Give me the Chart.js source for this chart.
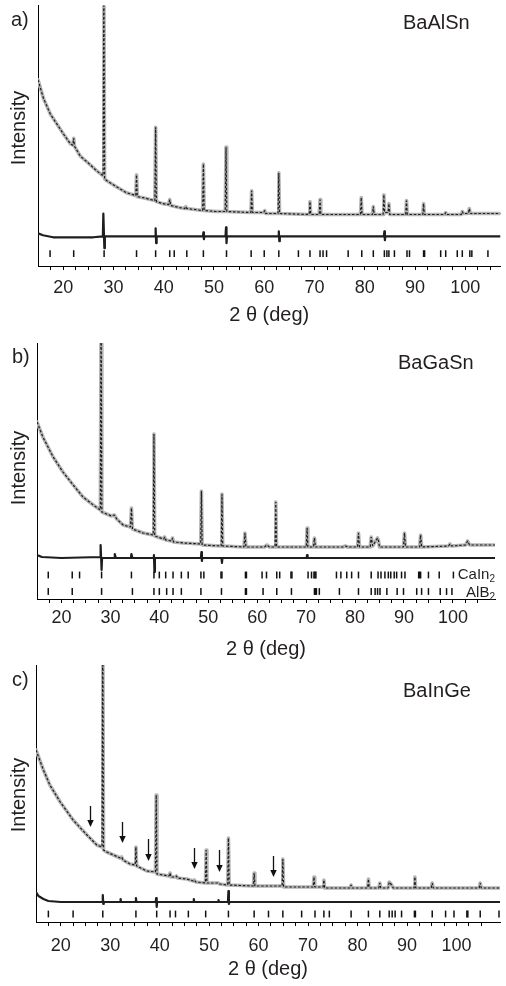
<!DOCTYPE html>
<html><head><meta charset="utf-8">
<script src="https://cdn.jsdelivr.net/npm/chart.js@4.4.1/dist/chart.umd.min.js"></script>
<style>
html,body{margin:0;padding:0;background:#fff;}
body{width:506px;height:986px;position:relative;overflow:hidden;font-family:"Liberation Sans",Arial,Helvetica,sans-serif;color:#231f20;}
canvas{position:absolute;left:0;}
.lbl{position:absolute;white-space:nowrap;line-height:1;font-size:20px;}
.ylab{position:absolute;white-space:nowrap;line-height:1;font-size:20px;transform:translate(-50%,-50%) rotate(-90deg);}
.ph{position:absolute;white-space:nowrap;line-height:1;font-size:15px;text-align:right;}
.ph span{font-size:10px;position:relative;top:3px;}
</style></head><body>
<canvas id="ca" width="506" height="340" style="top:0px"></canvas>
<canvas id="cb" width="506" height="340" style="top:330px"></canvas>
<canvas id="cc" width="506" height="336" style="top:650px"></canvas>

<div class="lbl" style="left:11px;top:9px">a)</div>
<div class="lbl" style="left:403px;top:12px">BaAlSn</div>
<div class="ylab" style="left:18px;top:128px">Intensity</div>

<div class="lbl" style="left:12px;top:346px">b)</div>
<div class="lbl" style="left:398px;top:352px">BaGaSn</div>
<div class="ylab" style="left:18px;top:468px">Intensity</div>
<div class="ph" style="right:11px;top:566px">CaIn<span>2</span></div>
<div class="ph" style="right:11px;top:584px">AlB<span>2</span></div>

<div class="lbl" style="left:12px;top:669px">c)</div>
<div class="lbl" style="left:403px;top:680px">BaInGe</div>
<div class="ylab" style="left:18px;top:795px">Intensity</div>

<script>
// ---------- Panel a) BaAlSn ----------
const aTheta = [15.0,16.1,17.5,18.8,20.1,21.5,21.95,22.1,22.25,23.4,25.0,26.7,27.95,28.1,28.25,28.7,30.6,32.6,33.9,34.45,34.6,34.75,35.9,38.25,38.4,38.55,39.8,41.0,41.2,41.4,43.1,44.2,44.4,44.6,47.75,47.9,48.05,50.4,52.25,52.4,52.55,57.35,57.5,57.65,59.9,60.1,60.3,62.75,62.9,63.05,68.95,69.1,69.25,70.95,71.1,71.25,79.15,79.3,79.45,81.55,81.7,81.85,83.65,83.8,83.95,84.65,84.8,84.95,88.15,88.3,88.45,91.55,91.7,91.85,95.9,96.1,96.3,99.2,99.4,99.6,100.6,100.8,101.0,107.0];
const aCounts = [188,169,153,143,133,123,122,129,121,111,104,96,91,300,88,86,80,74,72,71,92,70,69,66,140,65,63,62,67,61,59,58,60,58,56,103,56,55,55,120,55,54,76,54,54,56,53,53,94,53,52,65,52,52,67,52,52,69,52,52,60,52,52,72,54,54,63,52,52,66,52,52,63,52,52,54,52,52,55,53,53,58,53,53];
const aDiffTheta = [15.0,16.0,18.0,22.0,26.0,27.9,28.0,28.2,28.3,38.3,38.4,38.5,38.6,47.8,47.9,48.0,48.1,52.3,52.4,52.5,52.6,62.8,62.9,63.0,63.1,83.8,83.9,84.0,84.1,107.0];
const aDiff = [33,31,29,29,29,30,53,18,30,30,38,23,30,30,34,27,30,30,39,23,30,30,35,25,30,30,35,26,30,30];
const aRefl = [17.4,22.1,28.15,34.6,38.4,41.2,42.1,44.6,47.9,52.5,57.4,60.0,62.9,66.8,69.1,71.1,71.7,72.4,76.7,79.4,81.7,83.9,84.4,84.8,85.9,88.4,88.9,91.7,91.9,95.1,96.1,98.4,99.4,100.9,101.3,104.5];

// ---------- Panel b) BaGaSn ----------
const bTheta = [15.0,16.2,18.3,20.3,22.4,24.4,26.5,27.95,28.1,28.25,30.2,30.8,31.3,32.6,34.1,34.3,34.5,36.7,38.75,38.9,39.05,40.9,41.1,41.3,42.5,42.7,42.9,44.9,48.45,48.6,48.75,52.65,52.8,52.95,57.3,57.5,57.7,61.5,62.0,62.5,63.65,63.8,63.95,70.05,70.2,70.35,71.5,71.7,71.9,77.5,78.0,78.5,80.5,80.7,80.9,83.1,83.3,83.6,84.6,84.8,85.0,89.9,90.1,90.3,93.2,93.4,93.6,99.1,99.4,99.7,102.6,103.0,103.4,108.6];
const bCounts = [177,162,142,127,114,102,94,89,300,87,83,84,80,74,72,91,70,66,64,165,63,60,62,59,58,61,57,56,55,108,54,53,105,53,52,66,52,52,54,52,52,97,52,52,71,52,52,61,52,52,53,52,52,66,52,52,62,53,61,58,52,52,66,52,52,64,52,53,55,53,54,58,54,54];
const bDiffTheta = [15.0,16.0,20.0,27.9,28.0,28.2,28.3,30.8,30.9,31.1,34.2,34.3,34.5,38.8,38.9,39.0,39.1,48.5,48.6,48.7,48.8,52.7,52.8,52.9,70.1,70.2,70.3,108.6];
const bDiff = [44,42,41,42,54,29,41,41,45,41,41,45,41,41,44,27,41,41,47,38,41,41,36,41,41,44,41,41];
const bReflCaIn2 = [17.3,22.2,23.7,28.2,34.3,38.9,40.0,41.3,42.8,44.5,45.9,48.5,49.1,52.6,52.8,57.6,57.8,61.0,61.9,64.0,64.6,66.9,67.1,70.4,71.1,71.6,71.8,72.0,76.2,77.1,78.3,79.3,80.7,83.3,84.7,85.3,86.1,86.8,87.3,88.0,88.5,89.5,90.2,93.0,93.2,93.4,95.0,97.2,100.1];
const bReflAlB2 = [17.3,22.2,28.2,34.5,38.9,40.0,41.5,42.8,44.5,48.5,52.7,57.6,57.8,61.2,64.0,67.0,71.7,71.9,72.1,72.7,76.8,80.7,83.3,84.1,84.6,85.1,86.5,88.6,89.9,92.6,93.6,95.0,97.4,98.7,99.8];

// ---------- Panel c) BaInGe ----------
const cTheta = [15.0,16.5,17.8,19.9,22.5,25.3,27.3,28.35,28.5,28.65,29.3,32.0,32.3,32.6,34.0,35.05,35.2,35.35,37.4,39.15,39.3,39.45,41.9,42.1,42.3,43.2,43.4,43.6,45.5,46.8,47.0,47.3,49.25,49.4,49.55,51.9,52.1,53.75,53.9,54.05,58.95,59.1,59.25,64.75,64.9,65.05,71.05,71.2,71.35,73.05,73.2,73.35,78.5,78.7,78.9,82.05,82.2,82.35,84.3,84.5,84.7,86.2,86.4,86.9,87.2,91.45,91.6,91.75,94.9,95.1,95.3,104.6,104.8,105.0,108.8];
const cCounts = [172,152,137,120,102,87,77,75,300,72,70,64,65,62,58,57,75,56,51,50,127,48,46,49,45,45,46,44,43,41,42,40,39,72,39,39,38,37,84,37,36,49,36,36,63,35,35,45,35,35,42,34,34,37,34,34,43,34,34,39,34,34,40,37,34,34,45,34,34,39,34,34,39,34,34];
const cDiffTheta = [15.0,15.5,16.5,17.5,20.0,28.4,28.5,28.6,28.7,32.0,32.1,32.2,35.1,35.2,35.3,39.2,39.3,39.4,39.5,46.8,46.9,47.0,51.8,51.9,52.0,53.8,53.9,54.0,54.1,108.8];
const cDiff = [30,26,23,21,20,20,27,18,20,20,23,20,20,24,20,20,24,15,20,20,23,20,20,22,20,20,31,18,20,20];
const cRefl = [17.5,22.5,28.5,35.2,39.4,42.1,43.2,45.8,49.3,53.9,59.1,62.0,64.9,68.7,71.4,73.2,74.3,78.7,82.2,84.5,86.4,87.0,87.6,88.9,91.5,91.7,95.1,97.8,99.5,102.1,102.3,104.8,108.6];
const cArrowTheta = [25.9,32.3,37.6,46.9,52.0,63.0];
const cArrowFrom = [116,100,83,74,72,66];
const cArrowTo = [95,79,61,53,50,45];

const xTitle = '2 \u03b8 (deg)';
const FONT = "'Liberation Sans', Arial, Helvetica, sans-serif";
const INK = '#231f20';
Chart.defaults.font.family = FONT;

const pts = (xs, ys) => xs.map((x, i) => ({x: x, y: ys[i]}));
const row = (xs, level) => xs.map(x => ({x: x, y: level}));

function arrowPlugin(arrows) {
  return {
    id: 'arrows',
    afterDatasetsDraw(chart) {
      if (!arrows) return;
      const ctx = chart.ctx, xs = chart.scales.x, ys = chart.scales.y;
      ctx.save();
      ctx.strokeStyle = '#111'; ctx.fillStyle = '#111'; ctx.lineWidth = 1.3;
      arrows.theta.forEach((t, i) => {
        const px = Math.round(xs.getPixelForValue(t)) + 0.5;
        const y0 = ys.getPixelForValue(arrows.from[i]);
        const y1 = ys.getPixelForValue(arrows.to[i]);
        ctx.beginPath(); ctx.moveTo(px, y0); ctx.lineTo(px, y1 - 5); ctx.stroke();
        ctx.beginPath(); ctx.moveTo(px - 3.2, y1 - 7); ctx.lineTo(px + 3.2, y1 - 7); ctx.lineTo(px, y1); ctx.closePath(); ctx.fill();
      });
      ctx.restore();
    }
  };
}

function panel(id, cfg) {
  const canvas = document.getElementById(id);
  const H = canvas.height;
  const top = cfg.area.top - cfg.canvasTop;
  const bottom = cfg.area.bottom - cfg.canvasTop;
  const datasets = [
    {data: pts(cfg.theta, cfg.counts), borderColor: '#1e1e1e', borderWidth: 1.2, borderDash: [2.5, 1.8], borderJoinStyle: 'bevel', pointRadius: 0, order: 1},
    {data: pts(cfg.theta, cfg.counts), borderColor: '#b4b4b4', borderWidth: 3.6, borderJoinStyle: 'round', borderCapStyle: 'round', pointRadius: 0, order: 5},
    {data: pts(cfg.diffTheta, cfg.diff), borderColor: '#1e1e1e', borderWidth: 2.2, borderJoinStyle: 'round', pointRadius: 0, order: 2}
  ];
  cfg.refl.forEach(r => datasets.push({
    data: row(r.theta, r.level), showLine: false, pointStyle: 'line', pointRotation: 90,
    pointRadius: 3.4, pointBorderWidth: 1.5, pointBorderColor: '#111', pointBackgroundColor: '#111', order: 3
  }));
  new Chart(canvas, {
    type: 'line',
    data: {datasets: datasets},
    options: {
      responsive: false, animation: false, events: [],
      layout: {padding: {left: cfg.area.left, right: 506 - cfg.area.right, top: top, bottom: H - bottom - cfg.xh}},
      plugins: {legend: {display: false}, tooltip: {enabled: false}},
      scales: {
        x: {
          type: 'linear', min: 15, max: cfg.max,
          afterBuildTicks: s => {
            s.ticks = s.ticks.filter(t => t.value > 16 && t.value < 106 && Math.abs(t.value / 2.5 - Math.round(t.value / 2.5)) < 1e-6);
          },
          afterFit: s => { s.height = cfg.xh; },
          ticks: {
            autoSkip: false, maxRotation: 0, minRotation: 0, includeBounds: false, stepSize: 2.5,
            padding: cfg.tickPad, color: INK, font: {family: FONT, size: 18},
            callback: v => (Math.abs(v % 10) < 1e-6 ? String(v) : '')
          },
          grid: {display: true, drawOnChartArea: false, drawTicks: true, tickLength: 4, color: '#000', lineWidth: 1},
          border: {display: true, color: '#000', width: 1},
          title: {display: true, text: xTitle, color: INK, font: {family: FONT, size: 20}, padding: {top: 0, bottom: cfg.titlePad}}
        },
        y: {
          min: 0, max: cfg.ymax,
          ticks: {display: false},
          grid: {display: false, drawTicks: false},
          border: {display: true, color: '#000', width: 1},
          afterFit: s => { s.width = 0; }
        }
      }
    },
    plugins: [arrowPlugin(cfg.arrows)]
  });
}

panel('ca', {
  canvasTop: 0, area: {left: 38, right: 503, top: 3, bottom: 266}, xh: 66, tickPad: 7, titlePad: 5,
  max: 107, ymax: 263,
  theta: aTheta, counts: aCounts, diffTheta: aDiffTheta, diff: aDiff,
  refl: [{theta: aRefl, level: 12.5}]
});
panel('cb', {
  canvasTop: 330, area: {left: 37, right: 495, top: 343, bottom: 599}, xh: 66, tickPad: 4, titlePad: 4,
  max: 108.6, ymax: 256,
  theta: bTheta, counts: bCounts, diffTheta: bDiffTheta, diff: bDiff,
  refl: [{theta: bReflCaIn2, level: 24}, {theta: bReflAlB2, level: 7.5}]
});
panel('cc', {
  canvasTop: 650, area: {left: 36, right: 500, top: 665, bottom: 922}, xh: 62, tickPad: 9, titlePad: 2.5,
  max: 108.8, ymax: 257,
  theta: cTheta, counts: cCounts, diffTheta: cDiffTheta, diff: cDiff,
  refl: [{theta: cRefl, level: 8}],
  arrows: {theta: cArrowTheta, from: cArrowFrom, to: cArrowTo}
});
</script>
</body></html>
